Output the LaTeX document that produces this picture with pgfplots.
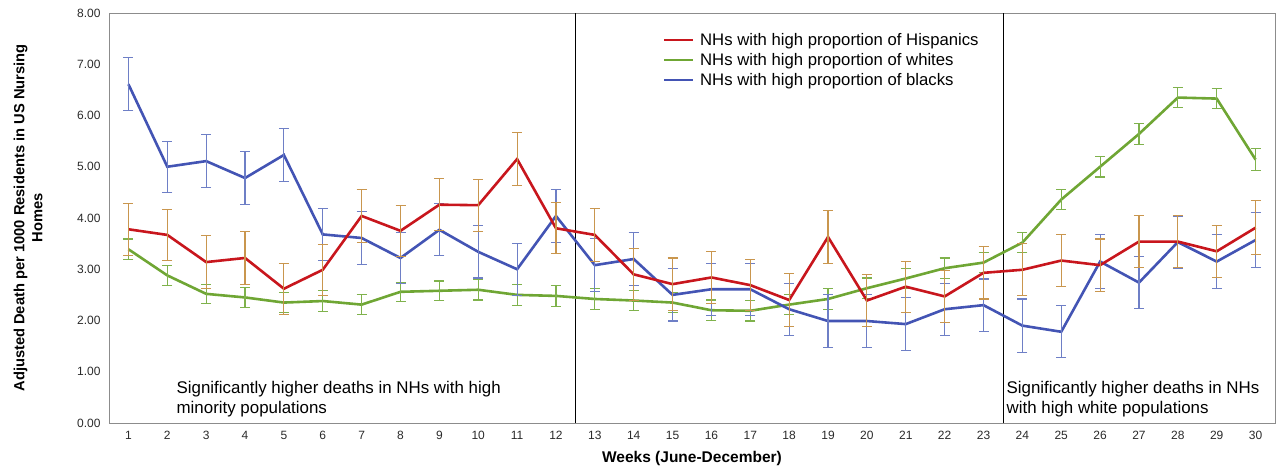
\documentclass[border=0pt]{standalone}
\usepackage{fontspec}
\setmainfont{Liberation Sans}
\usepackage{pgfplots}
\pgfplotsset{compat=1.18}
\definecolor{cred}{HTML}{C8161D}
\definecolor{cgreen}{HTML}{6FA634}
\definecolor{cblue}{HTML}{4354B4}
\definecolor{ered}{HTML}{C9964E}
\definecolor{egreen}{HTML}{7FB24C}
\definecolor{eblue}{HTML}{6E7FC6}
\definecolor{tickgray}{HTML}{2A2A2A}
\begin{document}
\begin{tikzpicture}
\begin{axis}[
  scale only axis,
  width=1166pt, height=410pt,
  xmin=0.5, xmax=30.5, ymin=0, ymax=8,
  xtick={1,2,...,30},
  ytick={0,1,...,8},
  major tick length=0pt,
  axis line style={draw=black!45, line width=0.8pt},
  tick label style={font=\fontsize{12}{14}\selectfont, text=tickgray},
  /pgf/number format/assume math mode=true,
  yticklabel style={xshift=-5pt, /pgf/number format/fixed, /pgf/number format/fixed zerofill, /pgf/number format/precision=2},
  xticklabel style={yshift=-5pt},
  legend style={draw=none, fill=none, at={(rel axis cs:0.475,0.955)}, anchor=north west,
    font=\fontsize{16.7}{19}\selectfont, row sep=3.5pt, inner sep=0pt,
    nodes={inner sep=1.5pt},
    /tikz/every odd column/.append style={column sep=4pt}},
  legend cell align=left,
  legend image code/.code={\draw[#1] (0pt,0pt) -- (29pt,0pt);},
  clip=false,
]
\coordinate (ll) at (rel axis cs:0,0);
\coordinate (ur) at (rel axis cs:1,1);
\draw[black, line width=0.8pt] (axis cs:12.5,0) -- (axis cs:12.5,8);
\draw[black, line width=0.8pt] (axis cs:23.5,0) -- (axis cs:23.5,8);

\addplot[cgreen, line width=2.6pt, forget plot,
  error bars/.cd, y dir=both, y explicit,
  error bar style={color=egreen, line width=1.1pt},
  error mark options={color=egreen, line width=1.1pt, mark size=5pt, rotate=90}]
table[x=x, y=y, y error=e] {
x y e
1 3.39 0.20
2 2.88 0.19
3 2.52 0.18
4 2.45 0.20
5 2.35 0.20
6 2.38 0.20
7 2.31 0.19
8 2.56 0.19
9 2.58 0.19
10 2.60 0.20
11 2.50 0.20
12 2.48 0.20
13 2.42 0.20
14 2.39 0.20
15 2.35 0.20
16 2.20 0.20
17 2.19 0.20
18 2.31 0.20
19 2.42 0.20
20 2.63 0.20
21 2.82 0.20
22 3.02 0.20
23 3.13 0.20
24 3.52 0.20
25 4.36 0.20
26 5.00 0.20
27 5.64 0.20
28 6.35 0.19
29 6.33 0.20
30 5.14 0.21
};

\addplot[cblue, line width=2.6pt, forget plot,
  error bars/.cd, y dir=both, y explicit,
  error bar style={color=eblue, line width=1.1pt},
  error mark options={color=eblue, line width=1.1pt, mark size=5pt, rotate=90}]
table[x=x, y=y, y error=e] {
x y e
1 6.61 0.52
2 5.00 0.50
3 5.11 0.52
4 4.78 0.52
5 5.23 0.52
6 3.68 0.51
7 3.61 0.51
8 3.22 0.50
9 3.77 0.51
10 3.34 0.51
11 3.00 0.51
12 4.04 0.51
13 3.08 0.52
14 3.20 0.52
15 2.50 0.51
16 2.61 0.51
17 2.61 0.51
18 2.22 0.51
19 1.99 0.51
20 1.99 0.51
21 1.93 0.52
22 2.22 0.51
23 2.30 0.51
24 1.90 0.52
25 1.78 0.51
26 3.15 0.52
27 2.74 0.51
28 3.53 0.51
29 3.15 0.52
30 3.57 0.53
};

\addplot[cred, line width=2.6pt, forget plot,
  error bars/.cd, y dir=both, y explicit,
  error bar style={color=ered, line width=1.1pt},
  error mark options={color=ered, line width=1.1pt, mark size=5pt, rotate=90}]
table[x=x, y=y, y error=e] {
x y e
1 3.78 0.51
2 3.67 0.50
3 3.14 0.51
4 3.22 0.51
5 2.62 0.50
6 2.99 0.50
7 4.04 0.51
8 3.75 0.50
9 4.26 0.51
10 4.25 0.51
11 5.15 0.51
12 3.80 0.50
13 3.67 0.51
14 2.90 0.51
15 2.71 0.51
16 2.84 0.51
17 2.69 0.50
18 2.40 0.51
19 3.63 0.51
20 2.39 0.50
21 2.66 0.50
22 2.47 0.51
23 2.93 0.51
24 2.99 0.51
25 3.17 0.51
26 3.08 0.51
27 3.54 0.51
28 3.54 0.51
29 3.35 0.51
30 3.81 0.53
};

\addlegendimage{cred, line width=2.6pt}
\addlegendentry{NHs with high proportion of Hispanics}
\addlegendimage{cgreen, line width=2.6pt}
\addlegendentry{NHs with high proportion of whites}
\addlegendimage{cblue, line width=2.6pt}
\addlegendentry{NHs with high proportion of blacks}

\node[anchor=north west, align=left, font=\fontsize{16.9}{20}\selectfont, inner sep=0pt]
  at (axis cs:2.235,0.825) {Significantly higher deaths in NHs with high\\minority populations};
\node[anchor=north west, align=left, font=\fontsize{16.9}{20}\selectfont, inner sep=0pt]
  at (axis cs:23.59,0.825) {Significantly higher deaths in NHs\\with high white populations};

\node[rotate=90, align=center, font=\fontsize{14.7}{18}\selectfont\bfseries, inner sep=0pt]
  at ([xshift=-81pt]rel axis cs:0,0.5) {Adjusted Death per 1000 Residents in US Nursing\\Homes};
\node[font=\fontsize{15.5}{17}\selectfont\bfseries, inner sep=0pt]
  at ([yshift=-35pt]rel axis cs:0.5,0) {Weeks (June-December)};
\end{axis}
\pgfresetboundingbox
\path ([xshift=-109pt,yshift=-46pt]ll) rectangle ([xshift=3pt,yshift=13pt]ur);
\end{tikzpicture}
\end{document}
